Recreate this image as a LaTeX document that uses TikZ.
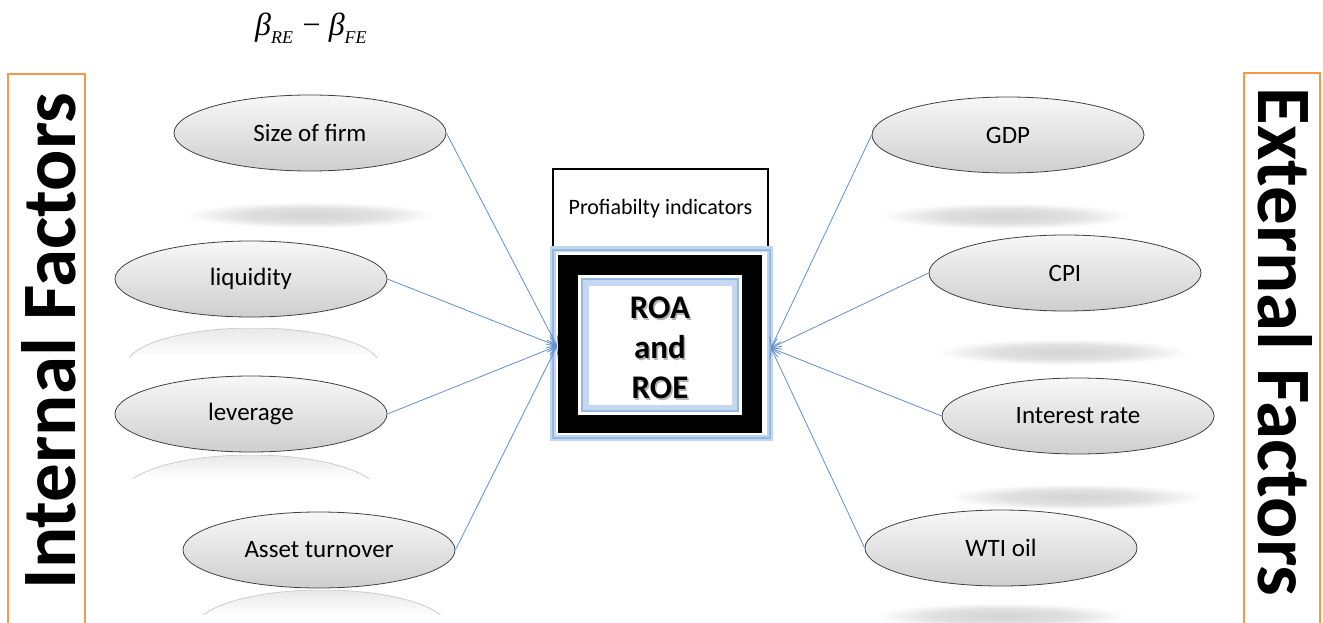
\documentclass[tikz,border=0pt]{standalone}
\usepackage{fontspec}
\setmainfont{Carlito}
\newfontfamily\tms{Liberation Serif}
\usetikzlibrary{arrows.meta,shapes.geometric}
\definecolor{arr}{RGB}{95,142,205}
\definecolor{orng}{RGB}{247,150,70}
\definecolor{glow}{RGB}{150,185,228}
\pgfdeclareradialshading{barshadow}{\pgfpoint{0bp}{0bp}}{color(0bp)=(black!17); color(14bp)=(black!12); color(25bp)=(white); color(50bp)=(white)}
\tikzset{
  factor/.style={ellipse, draw=black!75, line width=0.8pt, top color=gray!6, bottom color=gray!38,
    minimum width=272pt, minimum height=76pt, inner sep=0pt, font=\fontsize{25}{27}\selectfont},
  sidebox/.style={draw=orng, line width=2.5pt},
  sidetext/.style={font=\fontsize{77}{80}\selectfont\bfseries, anchor=base},
  link/.style={draw=arr, line width=0.8pt, -{Straight Barb[length=9pt,width=12pt,line width=0.8pt]}},
  bar/.style={shading=barshadow},
}
\newcommand{\reflect}[4]{% cx, ytop, ybot, rx
  \begin{scope}
    \clip (#1-#4,#2) rectangle (#1+#4,#3);
    \begin{scope}
      \clip (#1,#2+38) ellipse ({#4} and 38);
      \shade[top color=gray!18, bottom color=white] (#1-#4,#2) rectangle (#1+#4,#3);
    \end{scope}
    \draw[gray!40, line width=0.8pt] (#1,#2+38) ellipse ({#4} and 38);
  \end{scope}}
\begin{document}
\begin{tikzpicture}[x=1pt,y=-1pt]
\useasboundingbox (0,0) rectangle (1323,623);

% side boxes
\draw[sidebox] (8,74) rectangle (85,630);
\draw[sidebox] (1244,73) rectangle (1320,630);
\node[sidetext, rotate=90] (intl) at (75,341) {Internal Factors};
\node[sidetext, rotate=-90] (extl) at (1258,342) {External Factors};

% formula
\node[anchor=base west, inner sep=0pt] (beta) at (255,36)
  {\tms\fontsize{32}{34}\selectfont\itshape β\raisebox{-0.22em}{\fontsize{18}{18}\selectfont RE}\hspace{0.3em}\upshape −\hspace{0.25em}\itshape β\raisebox{-0.22em}{\fontsize{18}{18}\selectfont FE}};

% shadows
\shade[bar] (310,215) ellipse (126 and 13);
\shade[bar] (1006,216) ellipse (126 and 13);
\shade[bar] (1063,352) ellipse (126 and 13);
\shade[bar] (1076,497) ellipse (128 and 13);
\shade[bar] (1001,616) ellipse (126 and 13);
\reflect{253}{328}{357}{127}
\reflect{251}{455}{478}{127}
\reflect{322}{590}{614}{126}

% factors
\node[factor] (size) at (310,133) {Size of firm};
\node[factor] (liq) at (251,279) {liquidity};
\node[factor] (lev) at (251,414) {leverage};
\node[factor] (asset) at (319,550) {Asset turnover};
\node[factor] (gdp) at (1008,135) {GDP};
\node[factor] (cpi) at (1065,273) {CPI};
\node[factor] (ir) at (1078,416) {Interest rate};
\node[factor] (wti) at (1001,548) {WTI oil};

% centre
\node[draw=black, line width=1.8pt, minimum width=215pt, minimum height=80pt, inner sep=0pt,
  font=\fontsize{22}{24}\selectfont] (prof) at (660.5,209) {Profiabilty indicators};
\node[draw=glow!60, line width=6pt, minimum width=217pt, minimum height=189pt, inner sep=0pt] (outer) at (661.5,343.5) {};
\draw[glow, line width=2pt] (553,250) rectangle (770,438);
\fill[black] (558,255) rectangle (762,433);
\fill[white] (578,275) rectangle (742,415);
\draw[glow!55, line width=7pt] (585,282) rectangle (735,408);
\draw[glow, line width=2pt] (582,279) rectangle (738,411);
\node[text=gray!60, align=center, font=\fontsize{33}{40}\selectfont\bfseries] at (661.5,349.5) {ROA\\and\\ROE};
\node[align=center, font=\fontsize{33}{40}\selectfont\bfseries] (roa) at (660,348) {ROA\\and\\ROE};

\coordinate (lin) at (557,346);
\coordinate (rin) at (771,348);

% connectors
\draw[link] (size.east) -- (lin);
\draw[link] (liq.east) -- (lin);
\draw[link] (lev.east) -- (lin);
\draw[link] (asset.east) -- (lin);
\draw[link] (gdp.west) -- (rin);
\draw[link] (cpi.west) -- (rin);
\draw[link] (ir.west) -- (rin);
\draw[link] (wti.west) -- (rin);
\end{tikzpicture}
\end{document}
